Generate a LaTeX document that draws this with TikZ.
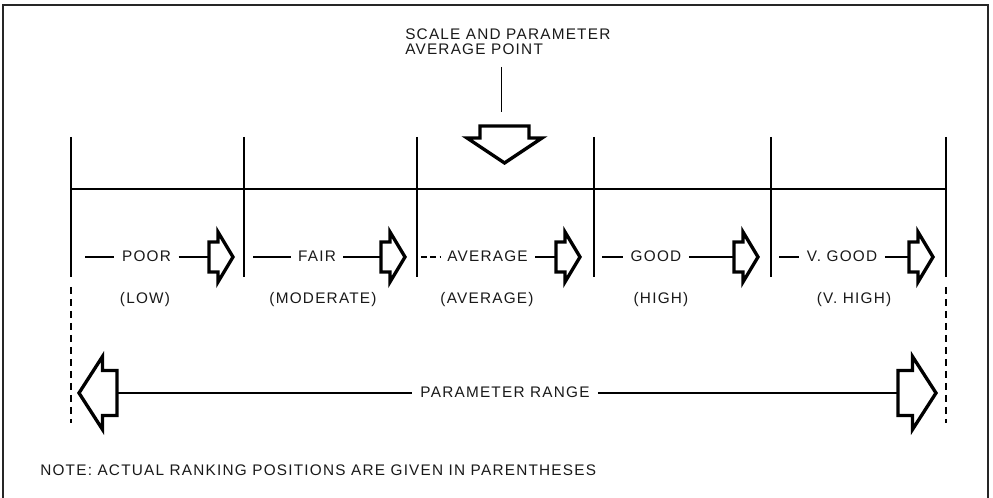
\documentclass[tikz,border=0pt]{standalone}
\usepackage{fontspec}
\setmainfont{Liberation Sans}[LetterSpace=8.0]
\begin{document}
\begin{tikzpicture}[x=0.75pt,y=-0.75pt,
  lbl/.style={font=\fontsize{11.5}{13.8}\selectfont, inner ysep=0pt, inner xsep=5.5pt, text=black!90},
  frameline/.style={line width=1.4pt, draw=black!85},
  divider/.style={line width=2.1pt},
  axisline/.style={line width=1.6pt},
  outline/.style={line width=2.5pt, line join=miter, miter limit=10},
  dashline/.style={line width=0.9pt},
  guide/.style={line width=1pt, dash pattern=on 5.5pt off 3.5pt},
  leader/.style={line width=0.7pt},
  smallarr/.pic={
    \draw[outline] (0,-15) -- (9,-15) -- (9,-25) -- (24,0) -- (9,25) -- (9,15) -- (0,15) -- cycle;
    \coordinate (-in) at (0,0);},
  bigarr/.pic={
    \draw[outline] (0,-22.5) -- (14.5,-22.5) -- (14.5,-36.5) -- (38,0) -- (14.5,36.5) -- (14.5,22.5) -- (0,22.5) -- cycle;
    \coordinate (-in) at (0,0);},
  downarr/.pic={
    \draw[outline] (-24.5,0) -- (24.5,0) -- (24.5,12) -- (37.5,12) -- (0,37) -- (-37.5,12) -- (-24.5,12) -- cycle;
    \coordinate (-in) at (0,0);}
]
\useasboundingbox (0,0) rectangle (993,498);

% frame
\coordinate (fbl) at (3,498);
\coordinate (ftl) at (3,5);
\coordinate (ftr) at (988,5);
\coordinate (fbr) at (988,498);
\draw[frameline] (fbl) -- (ftl) -- (ftr) -- (fbr);

% title and pointer
\node[lbl, inner xsep=0pt, anchor=base west] (title1) at (405,40) {SCALE AND PARAMETER};
\node[lbl, inner xsep=0pt, anchor=base west] (title2) at (405,55) {AVERAGE POINT};
\coordinate (leadtop) at (501,67);
\coordinate (leadbot) at (501,112);
\draw[leader] (leadtop) -- (leadbot);
\pic (down) at (504.5,126) {downarr};

% scale dividers
\foreach \n/\x in {0/71,1/244,2/417,3/594,4/771,5/946} {
  \coordinate (dt\n) at (\x,137);
  \coordinate (db\n) at (\x,277);
  \draw[divider] (dt\n) -- (db\n);
}
\coordinate (axl) at (71,189);
\coordinate (axr) at (946,189);
\draw[axisline] (axl) -- (axr);

% rating labels
\node[lbl, anchor=base] (poor) at (146.5,262) {POOR};
\node[lbl, anchor=base] (fair) at (317,262) {FAIR};
\node[lbl, anchor=base] (avg)  at (487.5,262) {AVERAGE};
\node[lbl, anchor=base] (good) at (656,262) {GOOD};
\node[lbl, anchor=base] (vgood) at (842,262) {V. GOOD};

\pic (a1) at (209,257) {smallarr};
\pic (a2) at (381,257) {smallarr};
\pic (a3) at (556,257) {smallarr};
\pic (a4) at (734,257) {smallarr};
\pic (a5) at (909,257) {smallarr};

\coordinate (s1) at (85,257);
\coordinate (s2) at (253,257);
\coordinate (s3) at (421,257);
\coordinate (s4) at (602,257);
\coordinate (s5) at (779,257);

\draw[dashline] (s1) -- (s1 -| poor.west);
\draw[dashline] (poor.east |- a1-in) -- (a1-in);
\draw[dashline] (s2) -- (s2 -| fair.west);
\draw[dashline] (fair.east |- a2-in) -- (a2-in);
\draw[dashline, dash pattern=on 4.5pt off 2.5pt] (s3) -- (s3 -| avg.west);
\draw[dashline] (avg.east |- a3-in) -- (a3-in);
\draw[dashline] (s4) -- (s4 -| good.west);
\draw[dashline] (good.east |- a4-in) -- (a4-in);
\draw[dashline] (s5) -- (s5 -| vgood.west);
\draw[dashline] (vgood.east |- a5-in) -- (a5-in);

% ranking positions
\node[lbl, anchor=base] (low)  at (145,304) {(LOW)};
\node[lbl, anchor=base] (mod)  at (323,304) {(MODERATE)};
\node[lbl, anchor=base] (avg2) at (487,304) {(AVERAGE)};
\node[lbl, anchor=base] (high) at (661,304) {(HIGH)};
\node[lbl, anchor=base] (vhigh) at (854,304) {(V. HIGH)};

% parameter range
\coordinate (gl1) at (71,287);
\coordinate (gl2) at (71,423);
\coordinate (gr1) at (946,287);
\coordinate (gr2) at (946,423);
\draw[guide] (gl1) -- (gl2);
\draw[guide] (gr1) -- (gr2);

\pic[xscale=-1] (la) at (117,393) {bigarr};
\pic (ra) at (898,393) {bigarr};
\node[lbl, anchor=base, inner xsep=6pt] (prange) at (505,397.5) {PARAMETER RANGE};
\draw[dashline] (la-in) -- (la-in -| prange.west);
\draw[dashline] (prange.east |- ra-in) -- (ra-in);

% note
\node[lbl, inner xsep=0pt, anchor=base west] (note) at (40,476) {NOTE: ACTUAL RANKING POSITIONS ARE GIVEN IN PARENTHESES};
\end{tikzpicture}
\end{document}
